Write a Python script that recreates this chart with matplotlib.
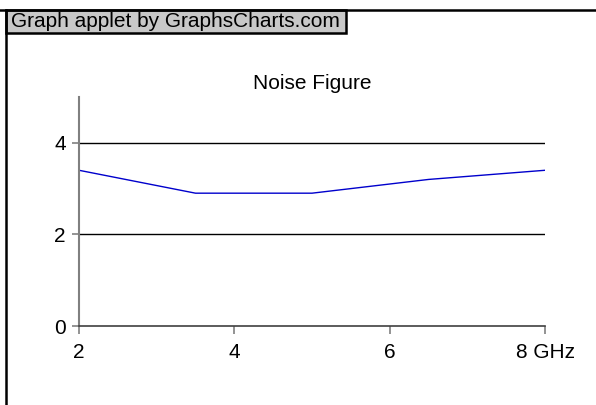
import matplotlib
matplotlib.use('Agg')
import matplotlib.pyplot as plt
from matplotlib.patches import Rectangle
from matplotlib.lines import Line2D

plt.rcParams['font.family'] = ['Liberation Sans', 'DejaVu Sans']

# Data
freq = [2, 3.5, 5, 6.5, 8]  # GHz
noise = [3.4, 2.9, 2.9, 3.2, 3.4]
x_ticks = [2, 4, 6, 8]
x_labels = ['2', '4', '6', '8 GHz']
y_ticks = [0, 2, 4]

W, H = 596, 405
fig = plt.figure(figsize=(W / 100, H / 100), dpi=100)

# axes placed by pixel box
ax = fig.add_axes([79 / W, (H - 326) / H, (545 - 79) / W, (326 - 97) / H])
ax.plot(freq, noise, color='#0000cc', linewidth=1)
ax.set_xlim(2, 8)
ax.set_ylim(0, 5)
ax.set_xticks(x_ticks)
ax.set_xticklabels(x_labels)
ax.set_yticks(y_ticks)
for yv in y_ticks[1:]:
    ax.axhline(yv, color='black', linewidth=1, zorder=1)
for s in ['top', 'right']:
    ax.spines[s].set_visible(False)
ax.spines['left'].set_color('#808080')
ax.spines['left'].set_linewidth(1.5)
ax.spines['bottom'].set_color('#404040')
ax.spines['bottom'].set_linewidth(1.2)
ax.tick_params(axis='both', colors='#808080', labelcolor='black', labelsize=15, width=1.2)
ax.tick_params(axis='y', length=5, pad=4.5)
ax.tick_params(axis='x', length=5.5, pad=7)
ax.set_title('Noise Figure', fontsize=15, pad=6)

# frame lines on top and left of the figure
fig.add_artist(Line2D([0, 1], [(H - 10) / H] * 2, color='black', linewidth=1.8, transform=fig.transFigure))
fig.add_artist(Line2D([6 / W] * 2, [0, (H - 10) / H], color='black', linewidth=1.8, transform=fig.transFigure))

# applet label
fig.add_artist(Rectangle((6 / W, (H - 33) / H), (346 - 6) / W, 23 / H, facecolor='#c8c8c8',
                         edgecolor='black', linewidth=1.8, transform=fig.transFigure))
fig.text(11 / W, (H - 21.5) / H, 'Graph applet by GraphsCharts.com', fontsize=15,
         va='center', ha='left')

fig.savefig('out.png', dpi=100)
